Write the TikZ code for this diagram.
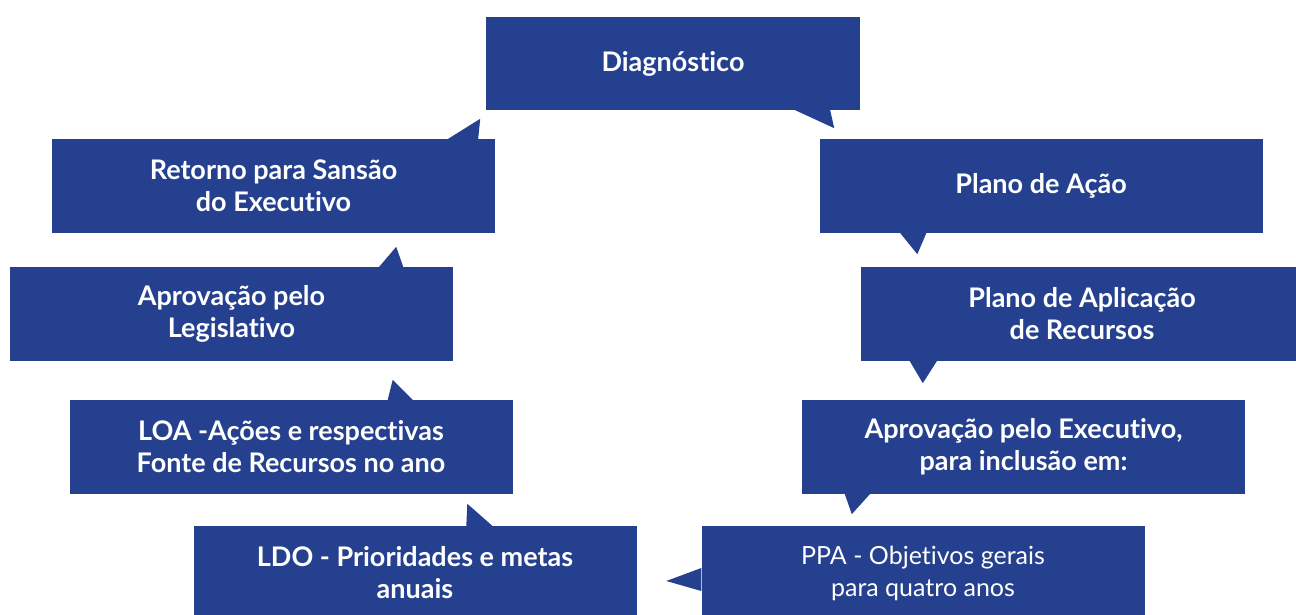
\documentclass[tikz,border=0pt]{standalone}
\usepackage{fontspec}
\setmainfont[Ligatures=NoCommon]{Lato}
\definecolor{stageblue}{RGB}{37,64,143}
\begin{document}
\begin{tikzpicture}[x=1pt,y=1pt,
    stage node/.style={fill=stageblue,text=white,inner sep=0pt,minimum width=443pt,minimum height=94pt,align=center,font=\fontsize{27}{32}\selectfont\bfseries},
    tip/.style={fill=stageblue}]
    \useasboundingbox (0,0) rectangle (1296,615);
    \node[stage node,minimum width=374pt,minimum height=93pt] (diag) at (673,551.5) {Diagnóstico};
    \node[stage node] (retorno) at (273.5,429) {Retorno para Sansão\\do Executivo};
    \node[stage node] (acao) at (1041,429) {Plano de Ação};
    \node[stage node] (legis) at (231.5,301) {Aprovação pelo\\Legislativo};
    \node[stage node] (aplic) at (1082,301) {Plano de Aplicação\\de Recursos};
    \node[stage node] (loa) at (291,168) {LOA -Ações e respectivas\\Fonte de Recursos no ano};
    \node[stage node] (exec) at (1023.5,168) {Aprovação pelo Executivo,\\para inclusão em:};
    \node[stage node] (ldo) at (415,42) {LDO - Prioridades e metas\\anuais};
    \node[stage node,font=\fontsize{25}{32}\selectfont] (ppa) at (923,42) {PPA - Objetivos gerais\\para quatro anos};
    % pointers
    \fill[tip] ([xshift=-65pt]diag.south east) -- ([xshift=-26pt,yshift=-18pt]diag.south east) -- ([xshift=-30pt]diag.south east) -- cycle;
    \fill[tip] ([xshift=81pt]acao.south west) -- ([xshift=98pt,yshift=-21pt]acao.south west) -- ([xshift=107pt]acao.south west) -- cycle;
    \fill[tip] ([xshift=49.5pt]aplic.south west) -- ([xshift=62.5pt,yshift=-22pt]aplic.south west) -- ([xshift=76.5pt]aplic.south west) -- cycle;
    \fill[tip] ([xshift=43pt]exec.south west) -- ([xshift=50pt,yshift=-20pt]exec.south west) -- ([xshift=68pt]exec.south west) -- cycle;
    \fill[tip] ([yshift=5pt]ppa.west) -- ([xshift=-35pt,yshift=-8pt]ppa.west) -- ([yshift=-18pt]ppa.west) -- cycle;
    \fill[tip] ([xshift=273pt]ldo.north west) -- ([xshift=274pt,yshift=22pt]ldo.north west) -- ([xshift=299pt]ldo.north west) -- cycle;
    \fill[tip] ([xshift=-125pt]loa.north east) -- ([xshift=-120pt,yshift=20pt]loa.north east) -- ([xshift=-100pt]loa.north east) -- cycle;
    \fill[tip] ([xshift=-74pt]legis.north east) -- ([xshift=-57pt,yshift=20pt]legis.north east) -- ([xshift=-50pt]legis.north east) -- cycle;
    \fill[tip] ([xshift=-47pt]retorno.north east) -- ([xshift=-15pt,yshift=20pt]retorno.north east) -- ([xshift=-17pt]retorno.north east) -- cycle;
\end{tikzpicture}
\end{document}
